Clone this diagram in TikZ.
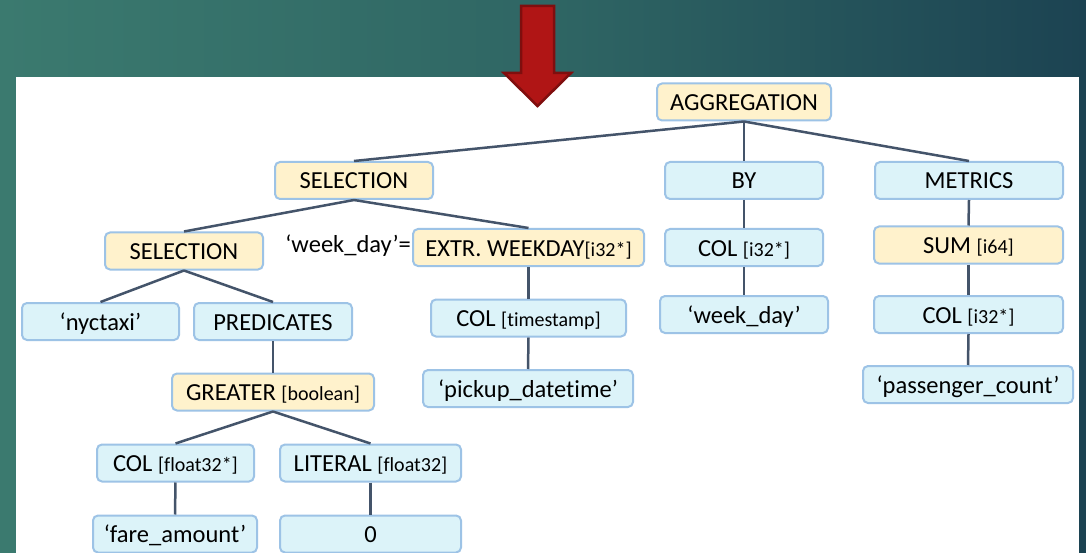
\documentclass[tikz,border=0pt]{standalone}
\usepackage{fontspec}
\setmainfont{Carlito}[Ligatures={NoCommon}]
\definecolor{bgleft}{HTML}{3B7A6F}
\definecolor{bgmid}{HTML}{2F6664}
\definecolor{bgright}{HTML}{1C4352}
\definecolor{opfill}{HTML}{FFF2CC}
\definecolor{argfill}{HTML}{DCF3F9}
\definecolor{boxedge}{HTML}{9DC3E6}
\definecolor{edgeline}{HTML}{44546A}
\definecolor{arrowfill}{HTML}{B01515}
\definecolor{arrowedge}{HTML}{7F0E0E}
\tikzset{
  treebox/.style={draw=boxedge, line width=2pt, rounded corners=5pt,
    minimum height=37pt, inner sep=0pt, text height=22pt, text depth=5pt,
    font=\fontsize{24.5}{26}\selectfont},
  opbox/.style={treebox, fill=opfill},
  argbox/.style={treebox, fill=argfill},
  link/.style={draw=edgeline, line width=2.5pt},
}
\newcommand{\ty}[1]{{\fontsize{20}{22}\selectfont #1}}
\begin{document}
\begin{tikzpicture}[x=1pt,y=-1pt]
\useasboundingbox (0,0) rectangle (1086,553);
% backdrop and white panel
\shade[left color=bgleft, right color=bgright, middle color=bgmid] (0,0) rectangle (1086,553);
\fill[white] (16,77) rectangle (1079,553);
% red down arrow
\filldraw[fill=arrowfill, draw=arrowedge, line width=2.5pt, line join=miter]
  (521,6) -- (554,6) -- (554,73) -- (571,73) -- (537.5,106) -- (504,73) -- (521,73) -- cycle;

% tree nodes
\node[opbox, minimum width=174pt] (agg) at (744,102) {AGGREGATION};
\node[opbox, minimum width=158pt] (sel1) at (354,180.5) {SELECTION};
\node[argbox, minimum width=158pt] (by) at (744,180.5) {BY};
\node[argbox, minimum width=188pt] (met) at (969,180.5) {METRICS};
\node[opbox, minimum width=158pt] (sel2) at (184,251) {SELECTION};
\node[opbox, minimum width=231pt] (extr) at (528.5,247.5) {EXTR. WEEKDAY\ty{[i32*]}};
\node[anchor=base east, inner sep=0pt, font=\fontsize{24.5}{26}\selectfont] (alias) at (411,252) {‘week\_day’=};
\node[argbox, minimum width=158pt] (colby) at (744,247.5) {COL \ty{[i32*]}};
\node[opbox, minimum width=189pt] (sum) at (968.5,245) {SUM \ty{[i64]}};
\node[argbox, minimum width=157pt] (tab) at (100.5,321.5) {‘nyctaxi’};
\node[argbox, minimum width=158pt] (pred) at (273,321.5) {PREDICATES};
\node[argbox, minimum width=195pt] (colts) at (528.5,318) {COL \ty{[timestamp]}};
\node[argbox, minimum width=168pt] (wdname) at (744,314.5) {‘week\_day’};
\node[argbox, minimum width=189pt] (colsum) at (968.5,314.5) {COL \ty{[i32*]}};
\node[opbox, minimum width=202pt] (gt) at (273,392) {GREATER \ty{[boolean]}};
\node[argbox, minimum width=210pt] (pick) at (528,388.5) {‘pickup\_datetime’};
\node[argbox, minimum width=210pt] (pass) at (968,384.5) {‘passenger\_count’};
\node[argbox, minimum width=157pt] (colf) at (175.5,463) {COL \ty{[float32*]}};
\node[argbox, minimum width=181pt] (lit) at (370.5,463) {LITERAL \ty{[float32]}};
\node[argbox, minimum width=164pt] (fare) at (175,534) {‘fare\_amount’};
\node[argbox, minimum width=181pt] (zero) at (370.5,534) {0};

% connectors
\draw[link] (agg.south) -- (sel1.north);
\draw[link] (agg.south) -- (by.north);
\draw[link] (agg.south) -- (met.north);
\draw[link] (sel1.south) -- (sel2.north);
\draw[link] (sel1.south) -- (extr.north);
\draw[link] (by.south) -- (colby.north);
\draw[link] (met.south) -- (sum.north);
\draw[link] (sel2.south) -- (tab.north);
\draw[link] (sel2.south) -- (pred.north);
\draw[link] (extr.south) -- (colts.north);
\draw[link] (colby.south) -- (wdname.north);
\draw[link] (sum.south) -- (colsum.north);
\draw[link] (pred.south) -- (gt.north);
\draw[link] (colts.south) -- (pick.north);
\draw[link] (colsum.south) -- (pass.north);
\draw[link] (gt.south) -- (colf.north);
\draw[link] (gt.south) -- (lit.north);
\draw[link] (colf.south) -- (fare.north);
\draw[link] (lit.south) -- (zero.north);
\end{tikzpicture}
\end{document}
